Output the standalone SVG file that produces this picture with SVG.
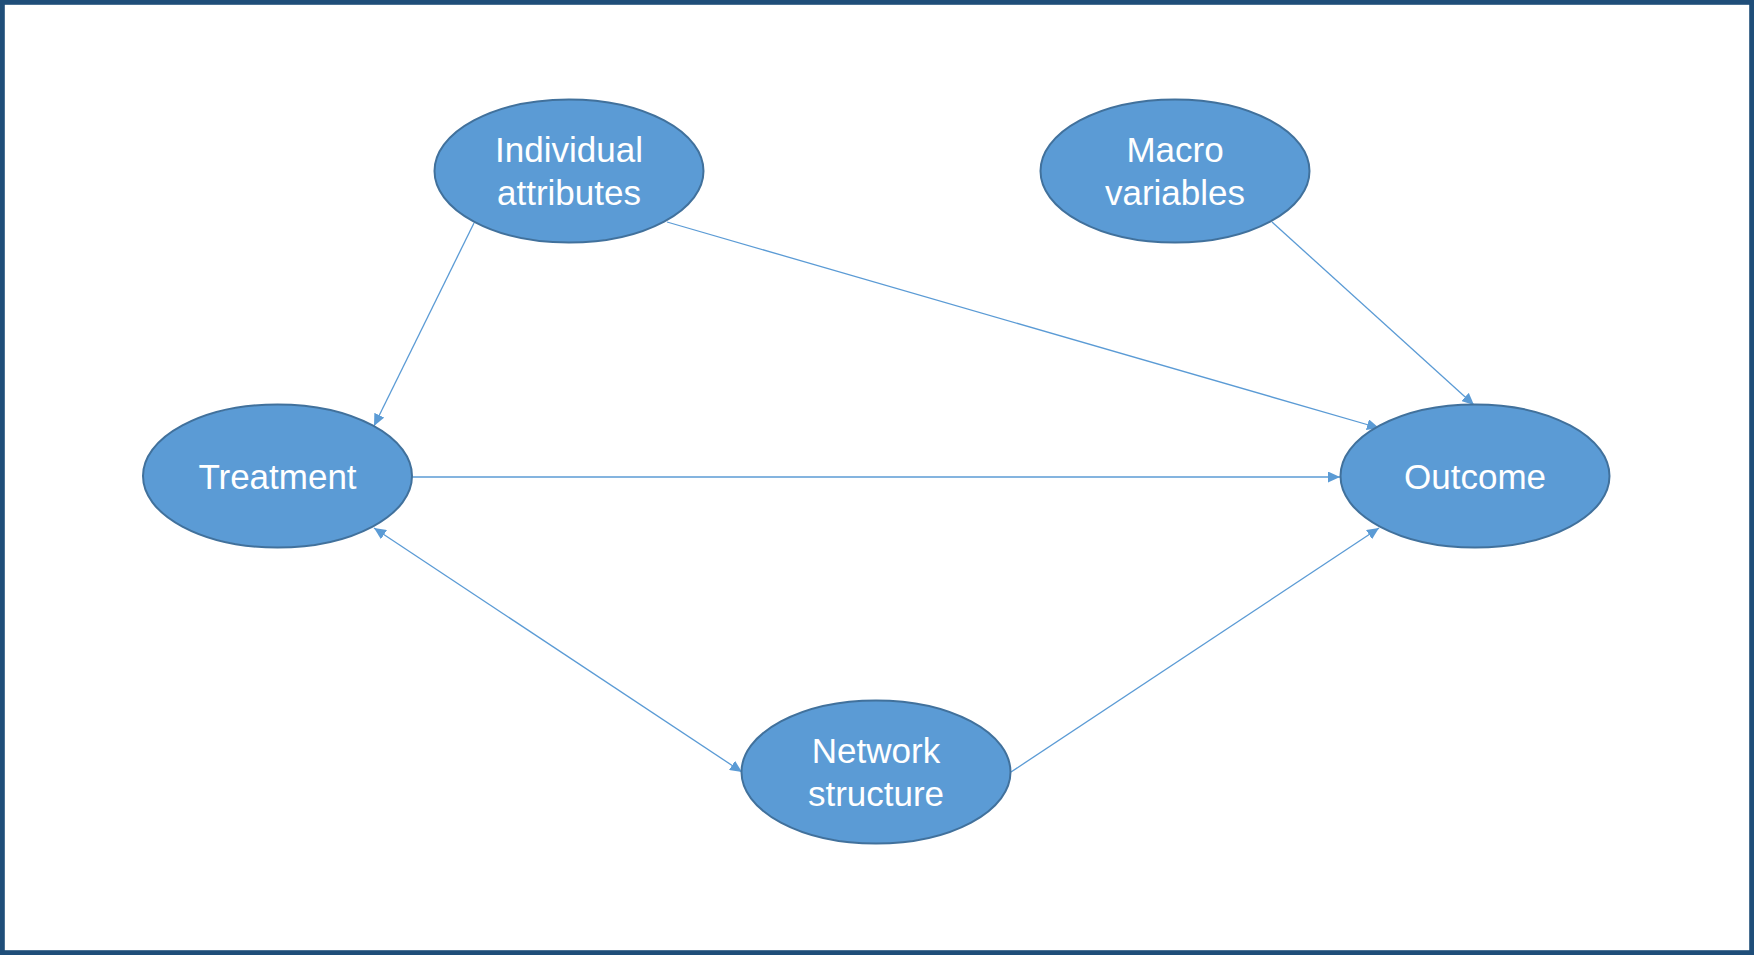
<svg xmlns="http://www.w3.org/2000/svg" width="1754" height="955" viewBox="0 0 1754 955">
  <style>
    .node ellipse { fill: #5B9BD5; stroke: #41719C; stroke-width: 2; }
    .node text { fill: #FFFFFF; font-family: "Liberation Sans", Arial, sans-serif; font-size: 35px; text-anchor: middle; }
    .edge { stroke: #5B9BD5; stroke-width: 1.3; fill: none; }
  </style>
  <defs>
    <marker id="arrow" markerUnits="userSpaceOnUse" markerWidth="13" markerHeight="11" refX="12" refY="5.5" orient="auto-start-reverse">
      <path d="M0,0 L12,5.5 L0,11 z" fill="#5B9BD5"/>
    </marker>
  </defs>
  <rect x="0" y="0" width="1754" height="955" fill="#FFFFFF"/>
  <rect x="2.4" y="2.4" width="1749.2" height="950.2" fill="none" stroke="#1F4E79" stroke-width="4.8"/>

  <g id="connectors">
    <line class="edge" x1="474" y1="223" x2="374" y2="426" marker-end="url(#arrow)"/>
    <line class="edge" x1="667" y1="222" x2="1379" y2="428" marker-end="url(#arrow)"/>
    <line class="edge" x1="1272" y1="222" x2="1474" y2="405" marker-end="url(#arrow)"/>
    <line class="edge" x1="412" y1="477" x2="1340" y2="477" marker-end="url(#arrow)"/>
    <line class="edge" x1="374" y1="528" x2="742" y2="772" marker-start="url(#arrow)" marker-end="url(#arrow)"/>
    <line class="edge" x1="1011" y1="772" x2="1379" y2="528" marker-end="url(#arrow)"/>
  </g>

  <g id="individual-attributes" class="node">
    <ellipse cx="569" cy="171" rx="134.5" ry="71.5"/>
    <text x="569" y="161.5">Individual</text>
    <text x="569" y="205">attributes</text>
  </g>
  <g id="macro-variables" class="node">
    <ellipse cx="1175" cy="171" rx="134.5" ry="71.5"/>
    <text x="1175" y="161.5">Macro</text>
    <text x="1175" y="205">variables</text>
  </g>
  <g id="treatment" class="node">
    <ellipse cx="277.5" cy="476" rx="134.5" ry="71.5"/>
    <text x="277.5" y="489">Treatment</text>
  </g>
  <g id="outcome" class="node">
    <ellipse cx="1475" cy="476" rx="134.5" ry="71.5"/>
    <text x="1475" y="489">Outcome</text>
  </g>
  <g id="network-structure" class="node">
    <ellipse cx="876" cy="772" rx="134.5" ry="71.5"/>
    <text x="876" y="762.5">Network</text>
    <text x="876" y="806">structure</text>
  </g>
</svg>
